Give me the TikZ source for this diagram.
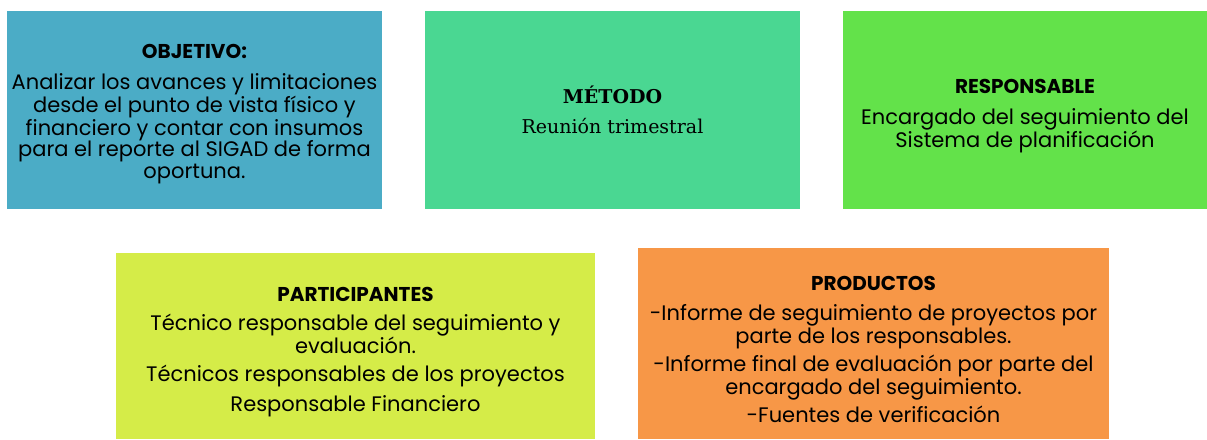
\documentclass[tikz,border=0pt]{standalone}
\usepackage{fontspec}
\setmainfont{Poppins}
\newfontfamily\metodofont{DejaVu Serif}
\definecolor{azulobj}{HTML}{4BACC6}
\definecolor{verdemet}{HTML}{4AD792}
\definecolor{verderesp}{HTML}{63E24A}
\definecolor{limapart}{HTML}{D5EC48}
\definecolor{naranjaprod}{HTML}{F79747}
\newcommand{\titulocaja}[1]{{\bfseries\fontsize{20}{22}\selectfont #1}}

\begin{document}
\begin{tikzpicture}[x=1pt,y=-1pt,
  caja/.style={draw=none,inner sep=0pt,align=center,text=black,font=\fontsize{21}{22.5}\selectfont}]
\useasboundingbox (0,0) rectangle (1207,439);
% fila superior
\node[caja,fill=azulobj,minimum width=375pt,minimum height=198pt,font=\fontsize{21}{21.5}\selectfont] (obj) at (194.5,110) {%
  \rule{0pt}{22pt}\titulocaja{OBJETIVO:}\\[10pt]
  Analizar los avances y limitaciones\\
  desde el punto de vista físico y\\
  financiero y contar con insumos\\
  para el reporte al SIGAD de forma\\
  oportuna.};
\node[caja,fill=verdemet,minimum width=375pt,minimum height=198pt,font=\metodofont\fontsize{19}{30}\selectfont] (met) at (612.5,110) {%
  \textbf{MÉTODO}\\
  Reunión trimestral};
\node[caja,fill=verderesp,minimum width=364pt,minimum height=198pt] (resp) at (1025,110) {%
  \rule{0pt}{26pt}\titulocaja{RESPONSABLE}\\[9pt]
  Encargado del seguimiento del\\
  Sistema de planificación};
% fila inferior
\node[caja,fill=limapart,minimum width=479pt,minimum height=186pt] (part) at (355.5,346) {%
  \rule{0pt}{26pt}\titulocaja{PARTICIPANTES}\\[7pt]
  Técnico responsable del seguimiento y\\
  evaluación.\\[6pt]
  Técnicos responsables de los proyectos\\[7pt]
  Responsable Financiero};
\node[caja,fill=naranjaprod,minimum width=471pt,minimum height=191pt] (prod) at (873.5,343.5) {%
  \rule{0pt}{26pt}\titulocaja{PRODUCTOS}\\[8pt]
  -Informe de seguimiento de proyectos por\\
  parte de los responsables.\\[6pt]
  -Informe final de evaluación por parte del\\
  encargado del seguimiento.\\[6pt]
  -Fuentes de verificación};
\end{tikzpicture}
\end{document}
